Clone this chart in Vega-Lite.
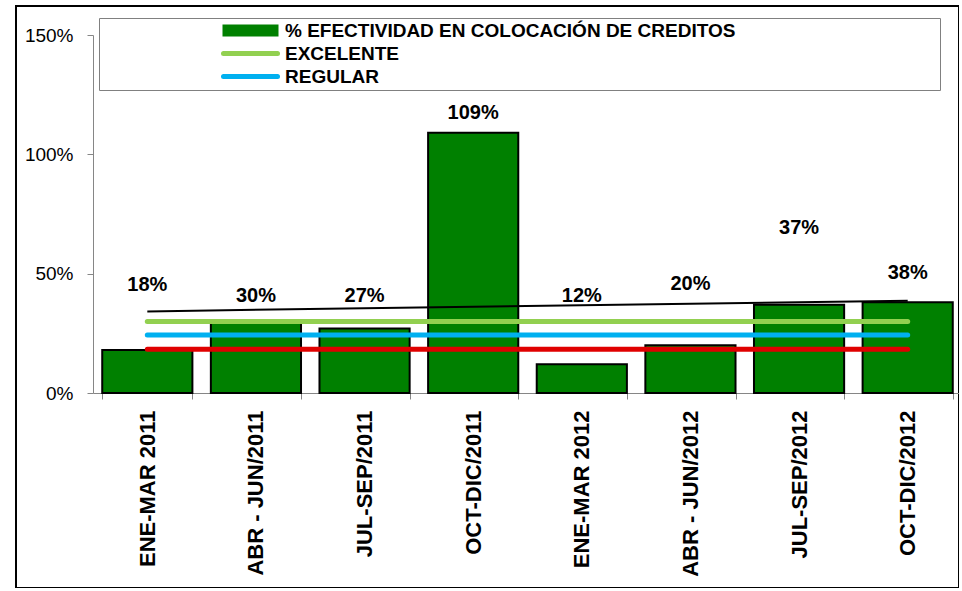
{
  "$schema": "https://vega.github.io/schema/vega-lite/v6.json",
  "width": 943,
  "height": 582,
  "autosize": {"type": "none"},
  "padding": {"left": 16, "top": 6, "right": 0, "bottom": 0},
  "background": "white",
  "config": {
    "view": {"stroke": "#000000", "strokeWidth": 2},
    "font": "Liberation Sans",
    "legend": {
      "orient": "none",
      "legendX": 83,
      "legendY": 12,
      "title": null,
      "strokeColor": "#808080",
      "fillColor": "#ffffff",
      "padding": 3,
      "symbolOffset": 139,
      "labelOffset": 25,
      "labelFont": "Liberation Sans",
      "labelFontSize": 19,
      "labelFontWeight": "bold",
      "labelColor": "#000000",
      "labelLimit": 2000,
      "rowPadding": 2,
      "symbolSize": 100,
      "symbolStrokeWidth": 2
    }
  },
  "data": {
    "values": [
      {"periodo": "ENE-MAR 2011", "efectividad": 0.18, "etiqueta": 0.453, "EXCELENTE": 0.30, "REGULAR": 0.243, "minimo": 0.183, "tendencia": 0.342},
      {"periodo": "ABR - JUN/2011", "efectividad": 0.30, "etiqueta": 0.406, "EXCELENTE": 0.30, "REGULAR": 0.243, "minimo": 0.183, "tendencia": null},
      {"periodo": "JUL-SEP/2011", "efectividad": 0.27, "etiqueta": 0.406, "EXCELENTE": 0.30, "REGULAR": 0.243, "minimo": 0.183, "tendencia": null},
      {"periodo": "OCT-DIC/2011", "efectividad": 1.09, "etiqueta": 1.175, "EXCELENTE": 0.30, "REGULAR": 0.243, "minimo": 0.183, "tendencia": null},
      {"periodo": "ENE-MAR 2012", "efectividad": 0.12, "etiqueta": 0.406, "EXCELENTE": 0.30, "REGULAR": 0.243, "minimo": 0.183, "tendencia": null},
      {"periodo": "ABR - JUN/2012", "efectividad": 0.20, "etiqueta": 0.455, "EXCELENTE": 0.30, "REGULAR": 0.243, "minimo": 0.183, "tendencia": null},
      {"periodo": "JUL-SEP/2012", "efectividad": 0.37, "etiqueta": 0.691, "EXCELENTE": 0.30, "REGULAR": 0.243, "minimo": 0.183, "tendencia": null},
      {"periodo": "OCT-DIC/2012", "efectividad": 0.38, "etiqueta": 0.503, "EXCELENTE": 0.30, "REGULAR": 0.243, "minimo": 0.183, "tendencia": 0.387}
    ]
  },
  "encoding": {
    "x": {
      "field": "periodo",
      "type": "nominal",
      "sort": null,
      "title": null,
      "scale": {"range": [77, 946], "paddingInner": 0.17, "paddingOuter": 0.085},
      "axis": {
        "offset": -195,
        "tickBand": "extent",
        "domainColor": "#868686",
        "tickColor": "#868686",
        "tickSize": 6,
        "labelAngle": -90,
        "labelFont": "Liberation Sans",
        "labelFontSize": 22,
        "labelFontWeight": "bold",
        "labelColor": "#000000",
        "labelPadding": 11,
        "labelLimit": 400
      }
    }
  },
  "layer": [
    {
      "mark": {"type": "bar", "stroke": "#000000", "strokeWidth": 2},
      "encoding": {
        "y": {
          "field": "efectividad",
          "type": "quantitative",
          "title": null,
          "scale": {"domain": [0, 1.5], "range": [387, 29], "nice": false},
          "axis": {
            "offset": -77,
            "values": [0, 0.5, 1, 1.5],
            "format": ".0%",
            "grid": false,
            "domainColor": "#868686",
            "tickColor": "#868686",
            "tickSize": 6,
            "labelFont": "Liberation Sans",
            "labelFontSize": 19,
            "labelColor": "#000000",
            "labelPadding": 14
          }
        },
        "color": {
          "datum": "% EFECTIVIDAD EN COLOCACIÓN DE CREDITOS",
          "type": "nominal",
          "title": null,
          "scale": {
            "domain": ["% EFECTIVIDAD EN COLOCACIÓN DE CREDITOS", "EXCELENTE", "REGULAR"],
            "range": ["#008000", "#92D050", "#00B0F0"]
          },
          "legend": {
            "title": null,
            "labelExpr": "datum.label + '\u00a0\u00a0\u00a0\u00a0\u00a0\u00a0\u00a0\u00a0\u00a0\u00a0\u00a0\u00a0\u00a0\u00a0\u00a0\u00a0\u00a0\u00a0\u00a0\u00a0\u00a0\u00a0\u00a0\u00a0\u00a0\u00a0\u00a0\u00a0\u00a0\u00a0\u00a0\u00a0\u00a0\u00a0\u00a0\u00a0\u00a0\u00a0\u200b'",
            "encode": {
              "symbols": {
                "update": {
                  "shape": {"signal": "datum.value === 'EXCELENTE' || datum.value === 'REGULAR' ? 'M-5.4,0H5.4' : 'M-5.4,-1H5.4V1H-5.4Z'"},
                  "fill": {"signal": "datum.value === 'EXCELENTE' || datum.value === 'REGULAR' ? 'transparent' : '#008000'"},
                  "stroke": {"signal": "datum.value === 'EXCELENTE' ? '#92D050' : datum.value === 'REGULAR' ? '#00B0F0' : '#000000'"},
                  "strokeWidth": {"signal": "datum.value === 'EXCELENTE' || datum.value === 'REGULAR' ? 5 : 2"},
                  "strokeCap": {"value": "round"},
                  "size": {"value": 100},
                  "opacity": {"value": 1}
                }
              }
            }
          }
        }
      }
    },
    {
      "transform": [{"fold": ["EXCELENTE", "REGULAR"], "as": ["serie", "valor"]}],
      "mark": {"type": "line", "strokeWidth": 5, "strokeCap": "round"},
      "encoding": {
        "y": {"field": "valor", "type": "quantitative", "title": null, "scale": {"domain": [0, 1.5], "range": [387, 29], "nice": false}},
        "color": {
          "field": "serie",
          "type": "nominal",
          "title": null,
          "legend": {
            "title": null,
            "labelExpr": "datum.label + '\u00a0\u00a0\u00a0\u00a0\u00a0\u00a0\u00a0\u00a0\u00a0\u00a0\u00a0\u00a0\u00a0\u00a0\u00a0\u00a0\u00a0\u00a0\u00a0\u00a0\u00a0\u00a0\u00a0\u00a0\u00a0\u00a0\u00a0\u00a0\u00a0\u00a0\u00a0\u00a0\u00a0\u00a0\u00a0\u00a0\u00a0\u00a0\u200b'",
            "encode": {
              "symbols": {
                "update": {
                  "shape": {"signal": "datum.value === 'EXCELENTE' || datum.value === 'REGULAR' ? 'M-5.4,0H5.4' : 'M-5.4,-1H5.4V1H-5.4Z'"},
                  "fill": {"signal": "datum.value === 'EXCELENTE' || datum.value === 'REGULAR' ? 'transparent' : '#008000'"},
                  "stroke": {"signal": "datum.value === 'EXCELENTE' ? '#92D050' : datum.value === 'REGULAR' ? '#00B0F0' : '#000000'"},
                  "strokeWidth": {"signal": "datum.value === 'EXCELENTE' || datum.value === 'REGULAR' ? 5 : 2"},
                  "strokeCap": {"value": "round"},
                  "size": {"value": 100},
                  "opacity": {"value": 1}
                }
              }
            }
          }
        }
      }
    },
    {
      "mark": {"type": "line", "strokeWidth": 5, "strokeCap": "round", "color": "#E00000"},
      "encoding": {
        "y": {"field": "minimo", "type": "quantitative", "title": null, "scale": {"domain": [0, 1.5], "range": [387, 29], "nice": false}}
      }
    },
    {
      "mark": {"type": "line", "strokeWidth": 2, "color": "#000000", "invalid": "filter"},
      "encoding": {
        "y": {"field": "tendencia", "type": "quantitative", "title": null, "scale": {"domain": [0, 1.5], "range": [387, 29], "nice": false}}
      }
    },
    {
      "mark": {"type": "text", "font": "Liberation Sans", "fontSize": 20, "fontWeight": "bold", "color": "#000000", "baseline": "middle", "align": "center"},
      "encoding": {
        "y": {"field": "etiqueta", "type": "quantitative", "title": null, "scale": {"domain": [0, 1.5], "range": [387, 29], "nice": false}},
        "text": {"field": "efectividad", "type": "quantitative", "format": ".0%"}
      }
    }
  ]
}
